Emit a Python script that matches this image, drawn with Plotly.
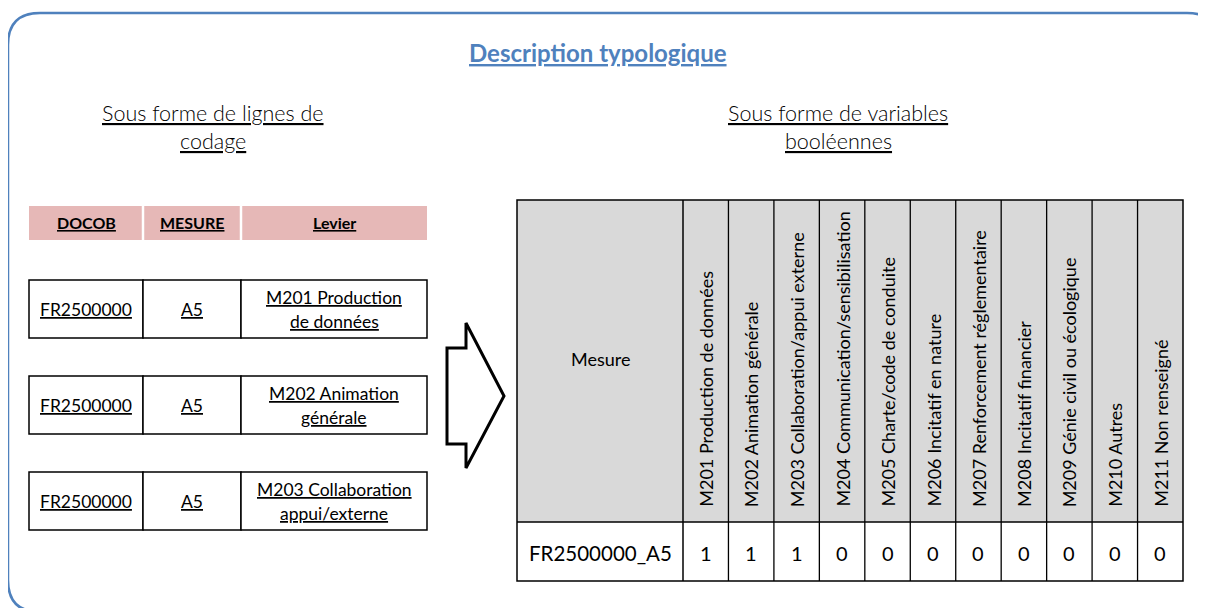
import plotly.graph_objects as go

# ---------------- data ----------------
TITLE = "Description typologique"
LEFT_SUBTITLE = ["Sous forme de lignes de", "codage"]
RIGHT_SUBTITLE = ["Sous forme de variables", "booléennes"]

LEFT_HEADERS = ["DOCOB", "MESURE", "Levier"]
DOCOB = ["FR2500000", "FR2500000", "FR2500000"]
MESURE = ["A5", "A5", "A5"]
LEVIER = [["M201 Production", "de données"],
          ["M202 Animation", "générale"],
          ["M203 Collaboration", "appui/externe"]]

RIGHT_FIRST_HEADER = "Mesure"
ROW_LABEL = "FR2500000_A5"
LEVIER_COLUMNS = [
    "M201 Production de données",
    "M202 Animation générale",
    "M203 Collaboration/appui externe",
    "M204 Communication/sensibilisation",
    "M205 Charte/code de conduite",
    "M206 Incitatif en nature",
    "M207 Renforcement réglementaire",
    "M208 Incitatif financier",
    "M209 Génie civil ou écologique",
    "M210 Autres",
    "M211 Non renseigné",
]
VALUES = [1, 1, 1, 0, 0, 0, 0, 0, 0, 0, 0]

# ---------------- layout / style ----------------
W, H = 1206, 608
OFF = 8  # page body margin: data coordinates == window pixels
FONT = "Lato"
BLUE = "#4F81BD"
PINK = "#E6B8B7"
GREY = "#D9D9D9"
INK = "#000000"

shapes = []
ann = []


def text(x, y, s, size, weight=400, color=INK, angle=0, xanchor="center", yanchor="middle"):
    ann.append(dict(x=x, y=y, xref="x", yref="y", text=s, showarrow=False,
                    xanchor=xanchor, yanchor=yanchor, textangle=angle,
                    font=dict(family=FONT, size=size, color=color, weight=weight)))


def rect(x0, y0, x1, y1, fill="rgba(0,0,0,0)", lc=INK, lw=1.5):
    shapes.append(dict(type="rect", xref="x", yref="y", x0=x0, y0=y0, x1=x1, y1=y1,
                       fillcolor=fill, line=dict(color=lc, width=lw), layer="above"))


def line(x0, y0, x1, y1, lc=INK, lw=1.5):
    shapes.append(dict(type="line", xref="x", yref="y", x0=x0, y0=y0, x1=x1, y1=y1,
                       line=dict(color=lc, width=lw), layer="above"))


# outer rounded frame
fx0, fy0, fx1, fy1, r = 8, 13, 1219, 612, 32
frame = (f"M {fx0+r},{fy0} L {fx1-r},{fy0} Q {fx1},{fy0} {fx1},{fy0+r} "
         f"L {fx1},{fy1-r} Q {fx1},{fy1} {fx1-r},{fy1} L {fx0+r},{fy1} "
         f"Q {fx0},{fy1} {fx0},{fy1-r} L {fx0},{fy0+r} Q {fx0},{fy0} {fx0+r},{fy0} Z")
shapes.append(dict(type="path", xref="x", yref="y", path=frame,
                   line=dict(color=BLUE, width=2.5), fillcolor="rgba(0,0,0,0)", layer="above"))

# titles
text(598, 52, f"<u>{TITLE}</u>", 24, weight=700, color=BLUE)
for i, s in enumerate(LEFT_SUBTITLE):
    text(213, 113 + 28 * i, f"<u>{s}</u>", 21.5, weight=300)
for i, s in enumerate(RIGHT_SUBTITLE):
    text(838, 113 + 28 * i, f"<u>{s}</u>", 21.5, weight=300)

# ---------------- left table ----------------
LX = [29, 143, 241, 427]
HY0, HY1 = 206, 240
rect(LX[0], HY0, LX[-1], HY1, fill=PINK, lc=PINK, lw=0)
for xv in LX[1:-1]:
    line(xv, HY0, xv, HY1, lc="white", lw=2.5)
for i, h in enumerate(LEFT_HEADERS):
    text((LX[i] + LX[i + 1]) / 2, (HY0 + HY1) / 2 - 1, f"<u>{h}</u>", 16, weight=700)

ROW_TOPS = [280, 376, 472]
ROW_H = 58
for k, top in enumerate(ROW_TOPS):
    bot = top + ROW_H
    cy = (top + bot) / 2
    for i in range(3):
        rect(LX[i], top, LX[i + 1], bot, fill="white", lw=1.5)
    text((LX[0] + LX[1]) / 2, cy, f"<u>{DOCOB[k]}</u>", 17.5)
    text((LX[1] + LX[2]) / 2, cy, f"<u>{MESURE[k]}</u>", 17.5)
    for li, s in enumerate(LEVIER[k]):
        text((LX[2] + LX[3]) / 2, cy - 12 + 24 * li, f"<u>{s}</u>", 17.5)

# ---------------- arrow ----------------
arrow = "M 447,348 L 466,348 L 466,323 L 504,396 L 466,468 L 466,444 L 447,444 Z"
shapes.append(dict(type="path", xref="x", yref="y", path=arrow,
                   line=dict(color=INK, width=3), fillcolor="white", layer="above"))

# ---------------- right table ----------------
RX0, RXM, RX1 = 517, 683, 1183
RY0, RYH, RY1 = 200, 522, 581
n = len(LEVIER_COLUMNS)
cw = (RX1 - RXM) / n
rect(RX0, RY0, RX1, RYH, fill=GREY, lw=0)
rect(RX0, RYH, RX1, RY1, fill="white", lw=0)
rect(RX0, RY0, RX1, RY1, lw=1.5)
line(RX0, RYH, RX1, RYH)
line(RXM, RY0, RXM, RY1)
for j in range(1, n):
    xv = RXM + j * cw
    line(xv, RY0, xv, RY1, lw=1.3)

text((RX0 + RXM) / 2, 359, RIGHT_FIRST_HEADER, 18)
text((RX0 + RXM) / 2, 553, ROW_LABEL, 20.5)
for j, (lab, v) in enumerate(zip(LEVIER_COLUMNS, VALUES)):
    cx = RXM + (j + 0.5) * cw
    text(cx, 509, lab, 18, angle=-90, yanchor="bottom")
    text(cx, 553, str(v), 20)

fig = go.Figure()
fig.add_trace(go.Scatter(x=[OFF, W + OFF], y=[OFF, H + OFF], mode="markers",
                         marker=dict(opacity=0), hoverinfo="skip", showlegend=False))
fig.update_layout(
    width=W, height=H, margin=dict(l=0, r=0, t=0, b=0),
    paper_bgcolor="white", plot_bgcolor="white",
    xaxis=dict(range=[OFF, W + OFF], visible=False, fixedrange=True),
    yaxis=dict(range=[H + OFF, OFF], visible=False, fixedrange=True),
    shapes=shapes, annotations=ann, showlegend=False,
)
fig.write_html("out.html")
